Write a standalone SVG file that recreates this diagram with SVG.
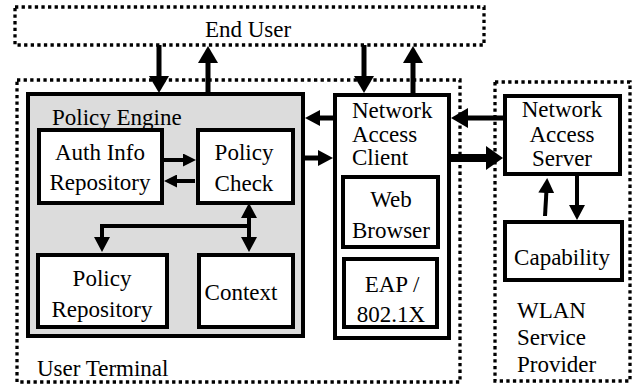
<svg xmlns="http://www.w3.org/2000/svg" width="634" height="387" viewBox="0 0 634 387">
  <style>
    .zone { fill: none; stroke: #000; stroke-width: 3.3; stroke-dasharray: 3.3 3.3; }
    .box { fill: #fff; stroke: #000; stroke-width: 4; }
    .engine { fill: #dcdcdc; stroke: #000; stroke-width: 4; }
    text { font-family: 'Liberation Serif', 'DejaVu Serif', serif; font-size: 23px; fill: #000; }
    .c { text-anchor: middle; }
    .link { fill: none; stroke: #000; stroke-width: 5; }
    .thin { stroke-width: 4; }
    .fat { stroke-width: 8; }
  </style>
  <defs>
    <marker id="big" viewBox="0 0 17 20" refX="3" refY="10" markerWidth="17" markerHeight="20" markerUnits="userSpaceOnUse" orient="auto-start-reverse">
      <path d="M0,0 L17,10 L0,20 Z" fill="#000"/>
    </marker>
    <marker id="wide" viewBox="0 0 17 24" refX="3" refY="12" markerWidth="17" markerHeight="24" markerUnits="userSpaceOnUse" orient="auto-start-reverse">
      <path d="M0,0 L17,12 L0,24 Z" fill="#000"/>
    </marker>
    <marker id="mid" viewBox="0 0 15 16" refX="3" refY="8" markerWidth="15" markerHeight="16" markerUnits="userSpaceOnUse" orient="auto-start-reverse">
      <path d="M0,0 L15,8 L0,16 Z" fill="#000"/>
    </marker>
    <marker id="small" viewBox="0 0 13 13" refX="3" refY="6.5" markerWidth="13" markerHeight="13" markerUnits="userSpaceOnUse" orient="auto-start-reverse">
      <path d="M0,0 L13,6.5 L0,13 Z" fill="#000"/>
    </marker>
  </defs>

  <g font-family="Liberation Serif, DejaVu Serif, serif" font-size="23">
  <!-- dotted zones -->
  <g id="end-user">
    <rect class="zone" x="15" y="7" width="469" height="38"/>
    <text class="c" x="248" y="37">End User</text>
  </g>
  <g id="user-terminal">
    <rect class="zone" x="17" y="80" width="443" height="302"/>
    <text x="37" y="376">User Terminal</text>
  </g>
  <g id="wlan-provider">
    <rect class="zone" x="495" y="82" width="135" height="299"/>
    <text x="517" y="318">WLAN</text>
    <text x="517" y="345">Service</text>
    <text x="517" y="372">Provider</text>
  </g>

  <!-- policy engine and its parts -->
  <g id="policy-engine">
    <rect class="engine" x="28" y="94" width="275" height="242"/>
    <text x="52" y="125">Policy Engine</text>
  </g>
  <g id="auth-info-repository">
    <rect class="box" x="39" y="130" width="123" height="73"/>
    <text class="c" x="100" y="160">Auth Info</text>
    <text class="c" x="100" y="190">Repository</text>
  </g>
  <g id="policy-check">
    <rect class="box" x="198" y="130" width="95" height="73"/>
    <text class="c" x="244" y="160">Policy</text>
    <text class="c" x="244" y="191">Check</text>
  </g>
  <g id="policy-repository">
    <rect class="box" x="38" y="255" width="129" height="72"/>
    <text class="c" x="102" y="286">Policy</text>
    <text class="c" x="102" y="317">Repository</text>
  </g>
  <g id="context">
    <rect class="box" x="199" y="255" width="94" height="72"/>
    <text class="c" x="241" y="300">Context</text>
  </g>

  <!-- network access client -->
  <g id="network-access-client">
    <rect class="box" x="335" y="95" width="114" height="243"/>
    <text x="352" y="118">Network</text>
    <text x="352" y="142">Access</text>
    <text x="352" y="165">Client</text>
  </g>
  <g id="web-browser">
    <rect class="box" x="343" y="177" width="95" height="70"/>
    <text class="c" x="391" y="207">Web</text>
    <text class="c" x="391" y="238">Browser</text>
  </g>
  <g id="eap">
    <rect class="box" x="344" y="259" width="93" height="68"/>
    <text class="c" x="392" y="292">EAP /</text>
    <text class="c" x="391" y="322">802.1X</text>
  </g>

  <!-- provider side -->
  <g id="network-access-server">
    <rect class="box" x="505" y="96" width="115" height="78"/>
    <text class="c" x="562" y="117">Network</text>
    <text class="c" x="562" y="141.5">Access</text>
    <text class="c" x="562" y="165.5">Server</text>
  </g>
  <g id="capability">
    <rect class="box" x="505" y="222" width="117" height="58"/>
    <text class="c" x="562" y="265">Capability</text>
  </g>
  </g>

  <!-- connectors -->
  <g id="connectors">
    <path class="link" d="M159,45 V79" marker-end="url(#big)"/>
    <path class="link" d="M208,93 V60" marker-end="url(#big)"/>
    <path class="link" d="M364,45 V79" marker-end="url(#big)"/>
    <path class="link" d="M413,93 V60" marker-end="url(#big)"/>

    <path class="link" d="M333,118 H317" marker-end="url(#mid)"/>
    <path class="link" d="M305,158 H321" marker-end="url(#mid)"/>

    <path class="link thin" d="M163,160 H186" marker-end="url(#small)"/>
    <path class="link thin" d="M195,181 H174" marker-end="url(#small)"/>

    <path class="link thin" d="M249,226 V215" marker-end="url(#mid)"/>
    <path class="link thin" d="M102,240 V226 H249 V240" marker-start="url(#mid)" marker-end="url(#mid)"/>

    <path class="link" d="M505,118 H465" marker-end="url(#big)"/>
    <path class="link fat" d="M451,158 H489" marker-end="url(#wide)"/>

    <path class="link thin" d="M545,216 L546.5,190" marker-end="url(#mid)"/>
    <path class="link thin" d="M577,174 V208" marker-end="url(#mid)"/>
  </g>
</svg>
